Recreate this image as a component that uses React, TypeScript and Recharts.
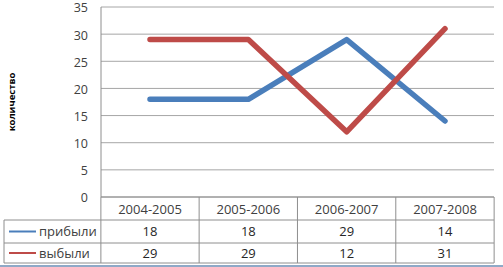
import React from 'react';
import { LineChart, Line, XAxis, YAxis, CartesianGrid } from 'recharts';

const periods = ['2004-2005', '2005-2006', '2006-2007', '2007-2008'];
const arrived = [18, 18, 29, 14];
const departed = [29, 29, 12, 31];
const yTicks = [0, 5, 10, 15, 20, 25, 30, 35];

const series = [
  { key: 'arrived', name: 'прибыли', values: arrived, color: '#4A7EBB' },
  { key: 'departed', name: 'выбыли', values: departed, color: '#BE4B48' },
];

const data = periods.map((period, i) => ({
  period,
  arrived: arrived[i],
  departed: departed[i],
}));

const FONT = '"Open Sans", sans-serif';
const BORDER = '#8E8E8E';
const COL_W = 98.25;
const TABLE_LEFT = 4;
const TABLE_RIGHT = 494;
const ROW_LINES = [220, 243, 263];

function rowCenter(r: number) {
  return r === 0 ? (ROW_LINES[0] + ROW_LINES[1]) / 2 : (ROW_LINES[1] + ROW_LINES[2]) / 2;
}

function TableTick(props: any) {
  const { x, y, payload, index } = props;
  const half = COL_W / 2;
  return (
    <g>
      {index === 0 && (
        <g>
          {ROW_LINES.map((ly) => (
            <line key={ly} x1={TABLE_LEFT} x2={TABLE_RIGHT} y1={ly} y2={ly} stroke={BORDER} strokeWidth={1} />
          ))}
          <line x1={TABLE_LEFT} x2={TABLE_LEFT} y1={ROW_LINES[0]} y2={ROW_LINES[2]} stroke={BORDER} />
          <line x1={x - half} x2={x - half} y1={y} y2={ROW_LINES[2]} stroke={BORDER} />
          {series.map((s, r) => (
            <g key={s.key}>
              <line x1={9} x2={36} y1={rowCenter(r)} y2={rowCenter(r)} stroke={s.color} strokeWidth={2} />
              <text x={39} y={rowCenter(r)} dy="0.35em" fontSize={13} fontFamily={FONT} fill="#404040">
                {s.name}
              </text>
            </g>
          ))}
        </g>
      )}
      <line x1={x + half} x2={x + half} y1={y} y2={ROW_LINES[2]} stroke={BORDER} />
      <text x={x} y={(y + ROW_LINES[0]) / 2 + 0.5} dy="0.35em" textAnchor="middle" fontSize={13} fontFamily={FONT} fill="#404040">
        {payload.value}
      </text>
      {series.map((s, r) => (
        <text key={s.key} x={x} y={rowCenter(r)} dy="0.35em" textAnchor="middle" fontSize={13} fontFamily={FONT} fill="#262626">
          {s.values[index]}
        </text>
      ))}
    </g>
  );
}

function ValueTick(props: any) {
  const { x, y, payload } = props;
  return (
    <text x={x} y={y + 1} dy="0.35em" textAnchor="end" fontSize={12.5} fontFamily={FONT} fill="#404040">
      {payload.value}
    </text>
  );
}

function AxisTitle(props: any) {
  const { viewBox } = props;
  const cy = viewBox.y + viewBox.height / 2;
  return (
    <text
      x={12}
      y={cy}
      transform={`rotate(-90, 12, ${cy})`}
      textAnchor="middle"
      dy="0.35em"
      fontSize={9.5}
      fontWeight="bold"
      fontFamily={FONT}
      fill="#000"
    >
      количество
    </text>
  );
}

export default function App() {
  return (
    <div style={{ position: 'absolute', left: 0, top: 0, width: 503, height: 267, background: '#fff' }}>
      <LineChart width={503} height={267} data={data} margin={{ top: 7, right: 9, left: 0, bottom: 0 }}>
        <CartesianGrid vertical={false} stroke="#A6A6A6" />
        <XAxis
          dataKey="period"
          height={70}
          padding={{ left: 49, right: 49 }}
          axisLine={{ stroke: BORDER }}
          tickLine={false}
          tickSize={0}
          tickMargin={0}
          interval={0}
          tick={<TableTick />}
        />
        <YAxis
          width={101}
          domain={[0, 35]}
          ticks={yTicks}
          interval={0}
          axisLine={{ stroke: BORDER }}
          tickLine={false}
          tickSize={0}
          tickMargin={13}
          tick={<ValueTick />}
          label={<AxisTitle />}
        />
        {series.map((s) => (
          <Line
            key={s.key}
            dataKey={s.key}
            name={s.name}
            type="linear"
            stroke={s.color}
            strokeWidth={5.5}
            strokeLinecap="round"
            strokeLinejoin="round"
            dot={false}
            activeDot={false}
            isAnimationActive={false}
          />
        ))}
      </LineChart>
      <div style={{ position: 'absolute', left: 0, top: 265, width: 503, height: 2, background: '#8FA9C7' }} />
    </div>
  );
}
